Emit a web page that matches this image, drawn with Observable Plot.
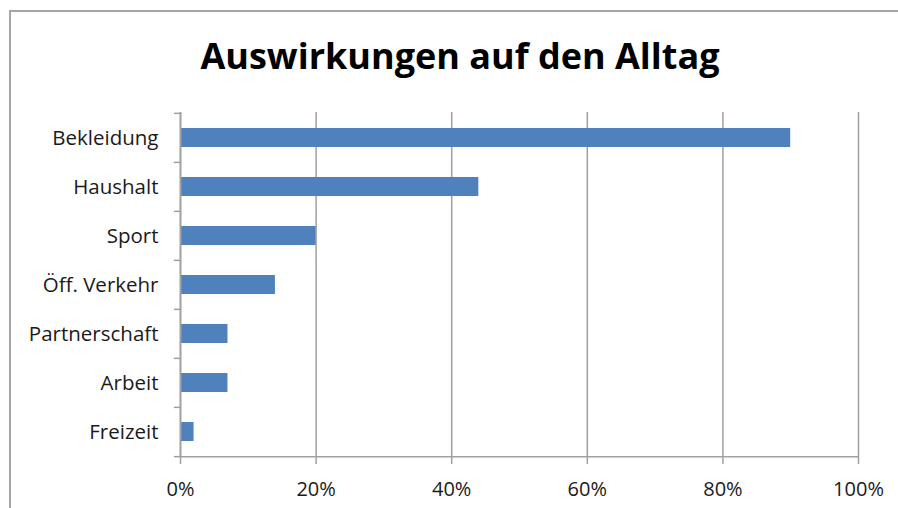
<!DOCTYPE html>
<html>
<head>
<meta charset="utf-8">
<script src="https://cdn.jsdelivr.net/npm/d3@7"></script>
<script src="https://cdn.jsdelivr.net/npm/@observablehq/plot@0.6"></script>
<style>
  html, body { margin: 0; padding: 0; background: #fff; }
  #wrap { position: relative; width: 898px; height: 508px; overflow: hidden; background: #fff; }
  #frame { position: absolute; left: 9px; top: 10px; width: 900px; height: 510px; border: 2px solid #a6a6a6; box-sizing: border-box; }
  #title { position: relative; height: 90px; margin: 0; padding: 0; text-align: center; font-family: "Open Sans", sans-serif; font-weight: 700; font-size: 36px; line-height: 1; color: #000; padding-left: 22px; box-sizing: border-box; }
  #title span { position: relative; top: 38px; }
  #chart { position: relative; }
</style>
</head>
<body>
<div id="wrap">
  <div id="frame"></div>
  <div id="title"><span>Auswirkungen auf den Alltag</span></div>
  <div id="chart"></div>
</div>
<script>
const categories = ["Bekleidung", "Haushalt", "Sport", "Öff. Verkehr", "Partnerschaft", "Arbeit", "Freizeit"];
const values = [0.90, 0.44, 0.20, 0.14, 0.07, 0.07, 0.02];
const xTicks = [0, 0.2, 0.4, 0.6, 0.8, 1.0];

const data = categories.map((c, i) => ({cat: categories[i], value: values[i]}));

const W = 898, H = 418, mt = 22, mb = 51, ml = 180, mr = 40;
const step = (H - mt - mb) / categories.length;
const gray = "#a0a0a0";

const chart = Plot.plot({
  width: W,
  height: H,
  marginTop: mt,
  marginBottom: mb,
  marginLeft: ml,
  marginRight: mr,
  style: {fontFamily: "'Open Sans', sans-serif", fontSize: "20px", color: "#1a1a1a", background: "transparent", overflow: "visible"},
  x: {domain: [0, 1], label: null},
  y: {domain: categories, label: null, paddingInner: 0.61, paddingOuter: 0.305},
  marks: [
    Plot.gridX(xTicks.filter(d => d > 0), {stroke: gray, strokeOpacity: 1, strokeWidth: 1.5}),
    Plot.axisX(xTicks, {tickFormat: d => Math.round(d * 100) + "%", tickSize: 7, tickPadding: 17, stroke: gray, strokeWidth: 1.5, fill: "#1a1a1a", fontSize: 20}),
    Plot.barX(data, {y: "cat", x: "value", fill: "#4f81bd"}),
    Plot.ruleX([0], {stroke: gray, strokeWidth: 2}),
    Plot.ruleY([categories[categories.length - 1]], {y: d => d, dy: step / 2, x1: 0, x2: 1, stroke: gray, strokeWidth: 1.5}),
    Plot.ruleY(categories, {y: d => d, dy: -step / 2, x1: -0.009, x2: 0, stroke: gray, strokeWidth: 1.5}),
    Plot.ruleY([categories[categories.length - 1]], {y: d => d, dy: step / 2, x1: -0.009, x2: 0, stroke: gray, strokeWidth: 1.5}),
    Plot.axisY({tickSize: 0, tickPadding: 22, fill: "#1a1a1a", fontSize: 20.5})
  ]
});
document.getElementById("chart").appendChild(chart);
</script>
</body>
</html>
